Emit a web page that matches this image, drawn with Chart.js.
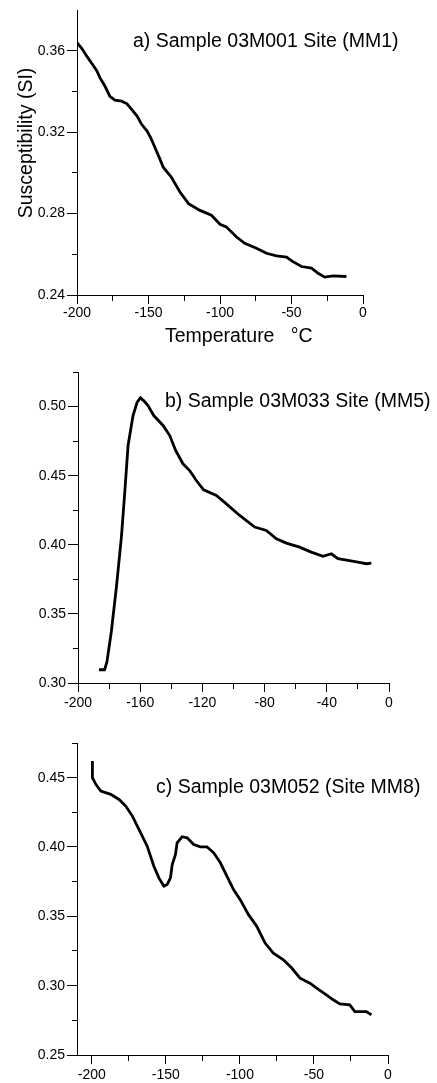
<!DOCTYPE html>
<html>
<head>
<meta charset="utf-8">
<script src="https://cdn.jsdelivr.net/npm/chart.js@4.4.1/dist/chart.umd.min.js"></script>
<style>
  html, body { margin: 0; padding: 0; background: #fff; }
  #wrap { position: relative; width: 437px; height: 1083px; }
  canvas { position: absolute; left: 0; }
</style>
</head>
<body>
<div id="wrap">
  <canvas id="chartA" width="437" height="350" style="top:0px"></canvas>
  <canvas id="chartB" width="437" height="365" style="top:350px"></canvas>
  <canvas id="chartC" width="437" height="368" style="top:715px"></canvas>
</div>
<script>
// a) Sample 03M001
var tempA = [-200, -196.7, -193, -189.8, -186, -183.9, -180.4, -177, -173.5, -168.8, -165, -161.8, -158, -154.8, -151, -148.5, -145.5, -142, -139.7, -134, -128, -122, -114, -106, -100, -95.6, -88.6, -82.7, -74.5, -67.5, -60.5, -53.5, -49, -43, -36, -31.4, -26.8, -21, -11.6];
var suscA = [0.364, 0.3613, 0.3572, 0.354, 0.350, 0.3467, 0.3426, 0.3377, 0.3358, 0.3353, 0.334, 0.3312, 0.328, 0.3239, 0.3206, 0.3174, 0.3125, 0.3068, 0.3028, 0.2979, 0.2906, 0.2849, 0.2816, 0.2792, 0.2748, 0.2735, 0.2686, 0.2654, 0.2630, 0.2605, 0.2592, 0.2586, 0.2564, 0.2540, 0.2532, 0.2507, 0.2488, 0.2494, 0.2491];

// b) Sample 03M033
var tempB = [-186.5, -182.9, -181.4, -178.6, -175.3, -172.1, -170, -167.8, -164.6, -162, -159.9, -157.8, -155, -151.3, -145.3, -141, -137.2, -132.5, -128.2, -123.9, -119.2, -111, -104.6, -96, -86.4, -78.9, -72.4, -66, -57.5, -50, -42.4, -37.1, -32.8, -26.4, -20, -14.6, -11.4];
var suscB = [0.3096, 0.3096, 0.3152, 0.3369, 0.3694, 0.4055, 0.4369, 0.4718, 0.4935, 0.5031, 0.5063, 0.5043, 0.5007, 0.4935, 0.4863, 0.4790, 0.4682, 0.4586, 0.4537, 0.4465, 0.4398, 0.4357, 0.4296, 0.4212, 0.4128, 0.4104, 0.4043, 0.4012, 0.3983, 0.3947, 0.3916, 0.3935, 0.3899, 0.3887, 0.3875, 0.3863, 0.3867];

// c) Sample 03M052
var tempC = [-199.6, -199.6, -197.3, -193.9, -187.2, -181.6, -177.1, -172.6, -167, -162.6, -158.1, -154.7, -151.3, -149.1, -146.9, -145.7, -143.5, -142.4, -139, -135.6, -131.2, -126.7, -122.2, -117.7, -113.2, -108.7, -104.3, -99.8, -94.2, -88.6, -83, -77.4, -70.6, -65, -59.4, -52.7, -48.2, -42.6, -37, -32.5, -25.8, -22.4, -18, -14.6, -11.2];
var suscC = [0.462, 0.450, 0.4452, 0.4404, 0.438, 0.4343, 0.4295, 0.4223, 0.4102, 0.4006, 0.3861, 0.3777, 0.3717, 0.3729, 0.3777, 0.3874, 0.3946, 0.4030, 0.4074, 0.4066, 0.4018, 0.4001, 0.4001, 0.3958, 0.3886, 0.3789, 0.3693, 0.3620, 0.3512, 0.3428, 0.3307, 0.3235, 0.3187, 0.3127, 0.3054, 0.3018, 0.2982, 0.2941, 0.2898, 0.2869, 0.2861, 0.2813, 0.2813, 0.2813, 0.2789];

var labelA = 'a) Sample 03M001 Site (MM1)';
var labelB = 'b) Sample 03M033 Site (MM5)';
var labelC = 'c) Sample 03M052 (Site MM8)';
var yTitle = 'Susceptibility (SI)';
var xTitle = 'Temperature   \u00B0C';

Chart.defaults.font.family = '"Liberation Sans", Arial, Helvetica, sans-serif';
Chart.defaults.color = '#000';
Chart.defaults.animation = false;

// free text drawn on top of the chart (panel captions, axis titles)
var freeText = {
  id: 'freeText',
  afterDraw: function (chart, args, opts) {
    var ctx = chart.ctx;
    (opts.items || []).forEach(function (t) {
      ctx.save();
      ctx.font = '19.5px "Liberation Sans", Arial, sans-serif';
      ctx.fillStyle = '#000';
      ctx.textBaseline = 'alphabetic';
      ctx.textAlign = t.align || 'left';
      ctx.translate(t.x, t.y);
      if (t.rotate) ctx.rotate(t.rotate);
      ctx.fillText(t.text, 0, 0);
      ctx.restore();
    });
  }
};

function points(xs, ys) {
  return xs.map(function (x, i) { return { x: x, y: ys[i] }; });
}

// axis with labelled major ticks and shorter unlabelled minor ticks
function axis(o) {
  return {
    type: 'linear',
    position: o.pos,
    min: o.min,
    max: o.max,
    border: { display: true, color: '#000', width: 1 },
    grid: {
      drawOnChartArea: false,
      drawTicks: true,
      tickLength: o.tickLen,
      tickColor: '#000',
      tickWidth: 1,
      tickBorderDash: function (c) {
        if (o.isMajor(c.tick.value)) return [];
        return o.pos === 'bottom' ? [5, 60] : [0, o.tickLen - 5, 5, 60];
      }
    },
    ticks: {
      stepSize: o.step,
      includeBounds: false,
      autoSkip: false,
      maxRotation: 0,
      padding: o.pad,
      font: { size: 14 },
      color: '#000',
      callback: function (v) { return o.isMajor(v) ? o.fmt(v) : ''; }
    },
    afterFit: function (s) {
      if (o.pos === 'bottom') s.height = o.size; else s.width = o.size;
    }
  };
}

function panel(id, xs, ys, pad, xAx, yAx, texts) {
  new Chart(document.getElementById(id), {
    type: 'line',
    data: {
      datasets: [{
        data: points(xs, ys),
        borderColor: '#000',
        borderWidth: 2.8,
        pointRadius: 0,
        tension: 0,
        fill: false
      }]
    },
    options: {
      responsive: false,
      layout: { padding: pad },
      scales: { x: xAx, y: yAx },
      plugins: {
        legend: { display: false },
        tooltip: { enabled: false },
        freeText: { items: texts }
      }
    },
    plugins: [freeText]
  });
}

var by50 = function (v) { return Math.round(v) % 50 === 0; };
var by40 = function (v) { return Math.round(v) % 40 === 0; };
var intFmt = function (v) { return String(Math.round(v)); };
var fmt2 = function (v) { return v.toFixed(2); };

panel('chartA', tempA, suscA,
  { top: 8, right: 74, left: 0, bottom: 0 },
  axis({ pos: 'bottom', min: -200, max: 0, step: 25, isMajor: by50, fmt: intFmt, tickLen: 9, pad: 1, size: 55 }),
  axis({ pos: 'left', min: 0.24, max: 0.3799, step: 0.02, isMajor: function (v) { return Math.round(v * 100) % 4 === 0; }, fmt: fmt2, tickLen: 10, pad: 2, size: 77 }),
  [
    { text: labelA, x: 133, y: 47 },
    { text: yTitle, x: 31.5, y: 143, align: 'center', rotate: -Math.PI / 2 },
    { text: xTitle, x: 165, y: 342 }
  ]);

panel('chartB', tempB, suscB,
  { top: 22, right: 48, left: 0, bottom: 0 },
  axis({ pos: 'bottom', min: -200, max: 0, step: 20, isMajor: by40, fmt: intFmt, tickLen: 9, pad: 3, size: 32 }),
  axis({ pos: 'left', min: 0.30, max: 0.525, step: 0.025, isMajor: function (v) { return Math.round(v * 1000) % 50 === 0; }, fmt: fmt2, tickLen: 10, pad: 2, size: 78 }),
  [
    { text: labelB, x: 165, y: 57 }
  ]);

panel('chartC', tempC, suscC,
  { top: 28, right: 49, left: 0, bottom: 0 },
  axis({ pos: 'bottom', min: -210, max: 0, step: 25, isMajor: by50, fmt: intFmt, tickLen: 9, pad: 3, size: 28 }),
  axis({ pos: 'left', min: 0.25, max: 0.475, step: 0.025, isMajor: function (v) { return Math.round(v * 1000) % 50 === 0; }, fmt: fmt2, tickLen: 10, pad: 2, size: 77 }),
  [
    { text: labelC, x: 156, y: 78 }
  ]);
</script>
</body>
</html>
